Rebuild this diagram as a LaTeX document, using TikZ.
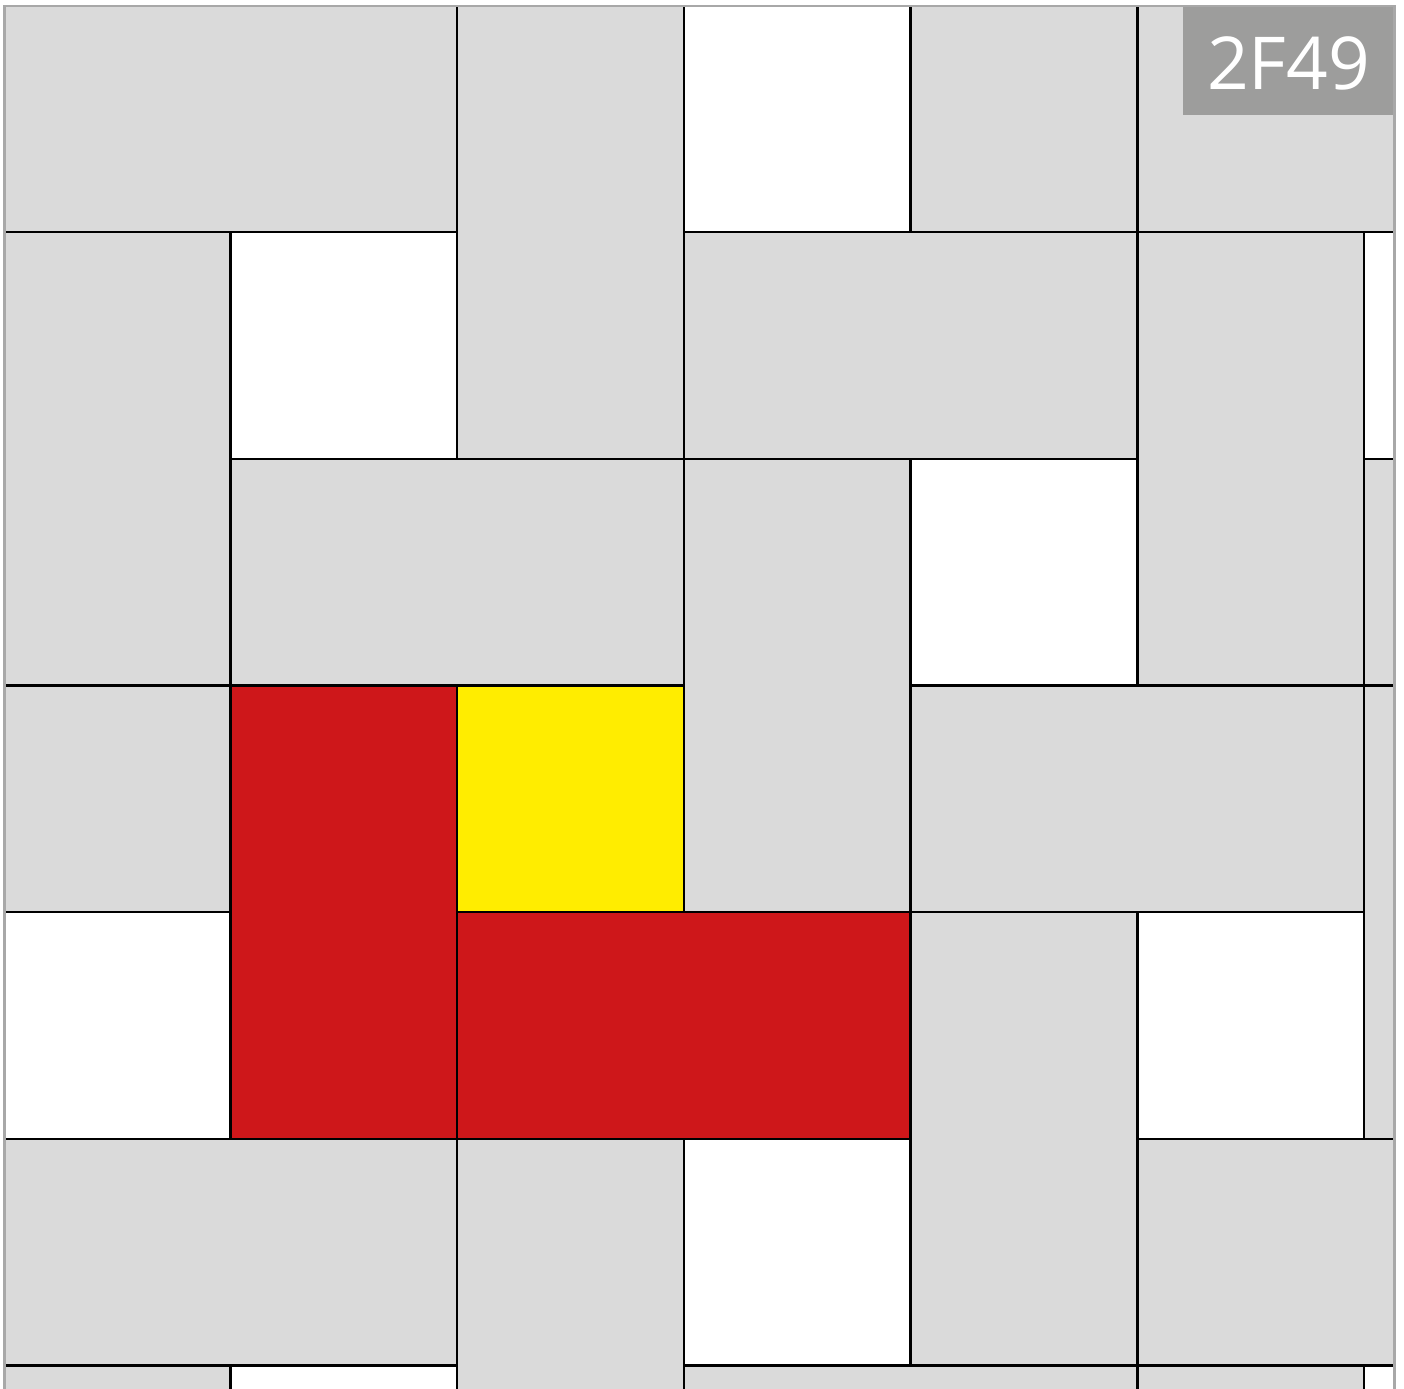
\documentclass[tikz,border=0pt]{standalone}
\usepackage{fontspec}
\newfontfamily\labelfont{Open Sans}
\definecolor{tilegray}{RGB}{218,218,218}
\definecolor{tilered}{RGB}{206,23,26}
\definecolor{tileyellow}{RGB}{255,237,0}
\definecolor{framegray}{RGB}{168,168,168}
\definecolor{labelgray}{RGB}{157,157,156}
\tikzset{
  tileline/.style={draw=black, line width=2.5pt, line join=miter},
  framelinestyle/.style={draw=framegray, line width=2.6pt},
  labelbox/.style={fill=labelgray, inner sep=0pt, minimum width=210pt, minimum height=109pt, anchor=north west},
  labeltext/.style={text=white, inner sep=0pt, font=\labelfont\fontsize{73pt}{73pt}\selectfont}
}
\begin{document}
\begin{tikzpicture}
\useasboundingbox (0pt,0pt) rectangle (1404pt,-1388pt);
\fill[white] (0pt,0pt) rectangle (1404pt,-1388pt);
\begin{scope}
\clip (4pt,-6pt) rectangle (1394pt,-1400pt);
\begin{scope}[xshift=3.8pt, yshift=-5.4pt, x=226.7pt, y=-226.7pt]
\foreach \c/\xa/\ya/\xb/\yb in {
  tilegray/-.2/-.2/2/1,
  tilegray/2/-.2/3/2,
  white/3/-.2/4/1,
  tilegray/4/-.2/5/1,
  tilegray/5/-.2/7.2/1,
  tilegray/-.2/1/1/3,
  white/1/1/2/2,
  tilegray/3/1/5/2,
  tilegray/5/1/6/3,
  white/6/1/7.2/2,
  tilegray/1/2/3/3,
  tilegray/3/2/4/4,
  white/4/2/5/3,
  tilegray/6/2/7.2/3,
  tilegray/-.2/3/1/4,
  tilered/1/3/2/5,
  tileyellow/2/3/3/4,
  tilegray/4/3/6/4,
  tilegray/6/3/7.2/5,
  white/-.2/4/1/5,
  tilered/2/4/4/5,
  tilegray/4/4/5/6,
  white/5/4/6/5,
  tilegray/-.2/5/2/6,
  tilegray/2/5/3/7.2,
  white/3/5/4/6,
  tilegray/5/5/7.2/6,
  tilegray/-.2/6/1/7.2,
  white/1/6/2/7.2,
  tilegray/3/6/5/7.2,
  tilegray/5/6/6/7.2,
  white/6/6/7.2/7.2}
{
  \path[tileline, fill=\c] (\xa,\ya) rectangle (\xb,\yb);
}
\end{scope}
\end{scope}
\node (labelbg) [labelbox] at (1183pt,-6pt) {};
\draw[framelinestyle] (4.7pt,-1400pt) -- (4.7pt,-6pt) -- (1394.5pt,-6pt) -- (1394.5pt,-1400pt);
\node (label) [labeltext] at (1288.5pt,-63.5pt) {2F49};
\end{tikzpicture}
\end{document}
